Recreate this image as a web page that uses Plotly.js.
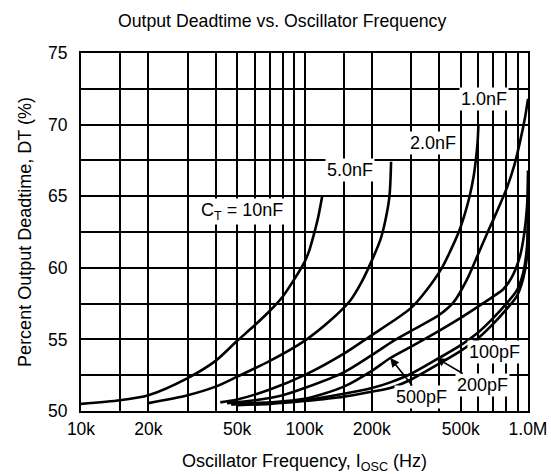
<!DOCTYPE html>
<html>
<head>
<meta charset="utf-8">
<script src="https://cdn.plot.ly/plotly-3.0.1.min.js"></script>
<style>html,body{margin:0;padding:0;background:#fff;}#chart{width:551px;height:474px;}</style>
</head>
<body>
<div id="chart"></div>
<script>
// Frequencies in Hz, deadtime in %
var f10n  = [10e3,15e3,20e3,30e3,40e3,50e3,60e3,70e3,80e3,90e3,100e3,105e3,110e3,115e3,120e3];
var dt10n = [50.5,50.75,51.1,52.3,53.5,54.9,56.0,57.0,58.0,59.2,60.4,61.2,62.3,63.5,65.0];

var f5n  = [20e3,30e3,40e3,50e3,70e3,100e3,130e3,160e3,180e3,200e3,219e3,230e3,240e3,244e3];
var dt5n = [50.55,51.1,51.7,52.4,53.5,54.9,56.3,57.7,59.0,60.5,62.0,63.3,65.0,67.4];

var f2n  = [42e3,50e3,70e3,100e3,150e3,200e3,250e3,300e3,350e3,412e3,450e3,490e3,520e3,548e3,570e3,584e3,595e3,600e3];
var dt2n = [50.6,50.8,51.5,52.5,54.0,55.3,56.3,57.2,58.4,60.0,61.2,62.5,63.7,65.0,66.3,67.5,68.8,70.0];

var f1n  = [45e3,60e3,80e3,100e3,150e3,200e3,250e3,300e3,400e3,465e3,530e3,600e3,656e3,720e3,805e3,870e3,924e3,970e3,1000e3];
var dt1n = [50.55,50.75,51.1,51.6,52.7,53.9,54.9,55.6,56.7,57.6,59.1,61.0,62.4,63.8,65.6,67.2,68.9,70.5,71.8];

var f500p  = [47e3,70e3,100e3,150e3,200e3,242e3,300e3,400e3,500e3,600e3,700e3,775e3,850e3,920e3,960e3,990e3,1000e3];
var dt500p = [50.5,50.6,50.85,51.7,52.8,53.7,54.5,55.6,56.5,57.3,58.0,58.5,59.4,60.8,62.3,64.3,66.8];

var f200p  = [47e3,70e3,100e3,150e3,200e3,242e3,300e3,390e3,500e3,600e3,700e3,800e3,890e3,950e3,990e3,1000e3];
var dt200p = [50.45,50.55,50.75,51.2,51.6,52.0,52.6,53.6,54.6,55.5,56.5,57.5,58.4,59.6,61.5,64.5];

var f100p  = [50e3,70e3,100e3,150e3,200e3,242e3,300e3,390e3,500e3,600e3,700e3,800e3,890e3,950e3,990e3,1000e3];
var dt100p = [50.4,50.5,50.7,51.0,51.35,51.6,52.2,53.2,54.2,55.1,56.1,57.1,58.0,59.2,60.8,63.0];

var xTickVals = [10e3,20e3,50e3,100e3,200e3,500e3,1000e3];
var xTickText = ['10k','20k','50k','100k','200k','500k','1.0M'];
var xMinorGrid = [15e3,30e3,40e3,60e3,70e3,80e3,90e3,150e3,300e3,400e3,600e3,700e3,800e3,900e3];
var yTickVals = [50,55,60,65,70,75];
var yMinorGrid = [52.5,57.5,62.5,67.5,72.5];

var series = [[f10n,dt10n],[f5n,dt5n],[f2n,dt2n],[f1n,dt1n],[f500p,dt500p],[f200p,dt200p],[f100p,dt100p]];
var traces = series.map(function(s){
  return {x:s[0], y:s[1], type:'scatter', mode:'lines',
          line:{color:'#000', width:2.6, shape:'spline', smoothing:0.8},
          hoverinfo:'skip', showlegend:false};
});

var FONT = 'Liberation Sans, Arial, Helvetica, sans-serif';
function lbl(fx, y, text, extra){
  var a = {x:Math.log10(fx), y:y, xref:'x', yref:'y', text:text, showarrow:false,
           bgcolor:'#fff', borderpad:1, font:{family:FONT, size:18, color:'#000'}};
  if (extra) for (var k in extra) a[k]=extra[k];
  return a;
}

var layout = {
  width:551, height:474,
  margin:{l:81, r:23, t:53, b:63},
  paper_bgcolor:'#fff', plot_bgcolor:'#fff',
  font:{family:FONT, size:17.5, color:'#000'},
  title:{text:'Output Deadtime vs. Oscillator Frequency', font:{family:FONT, size:17.7, color:'#000'},
         x:0.512, xref:'container', xanchor:'center', y:0.956, yref:'container', yanchor:'middle'},
  xaxis:{type:'log', range:[4,6], tickmode:'array', tickvals:xTickVals, ticktext:xTickText,
         showgrid:true, gridcolor:'#000', gridwidth:2, zeroline:false,
         minor:{tickmode:'array', tickvals:xMinorGrid, showgrid:true, gridcolor:'#000', gridwidth:2, ticks:''},
         showline:true, linecolor:'#000', linewidth:2, mirror:true, ticks:'', ticklabelstandoff:1,
         title:{text:'Oscillator Frequency, I<sub>OSC</sub> (Hz)', font:{family:FONT, size:18, color:'#000'}, standoff:19}},
  yaxis:{range:[50,75], tickmode:'array', tickvals:yTickVals,
         showgrid:true, gridcolor:'#000', gridwidth:2, zeroline:false,
         minor:{tickmode:'array', tickvals:yMinorGrid, showgrid:true, gridcolor:'#000', gridwidth:2, ticks:''},
         showline:true, linecolor:'#000', linewidth:2, mirror:true, ticks:'', ticklabelstandoff:8,
         title:{text:'Percent Output Deadtime, DT (%)', font:{family:FONT, size:18, color:'#000'}, standoff:12}},
  annotations:[
    lbl(52.7e3, 63.9, 'C<sub>T</sub> = 10nF'),
    lbl(160.3e3, 66.8, '5.0nF'),
    lbl(375e3, 68.7, '2.0nF'),
    lbl(637.5e3, 71.8, '1.0nF'),
    lbl(706.5e3, 54.1, '100pF'),
    lbl(242e3, 53.7, '500pF', {showarrow:true, arrowhead:2, arrowsize:1.1, arrowwidth:1.6, arrowcolor:'#000', ax:31, ay:39, axref:'pixel', ayref:'pixel'}),
    lbl(388.8e3, 53.7, '200pF', {showarrow:true, arrowhead:2, arrowsize:1.1, arrowwidth:1.6, arrowcolor:'#000', ax:46, ay:27, axref:'pixel', ayref:'pixel'})
  ]
};

Plotly.newPlot('chart', traces, layout, {displayModeBar:false, staticPlot:true});
</script>
</body>
</html>
